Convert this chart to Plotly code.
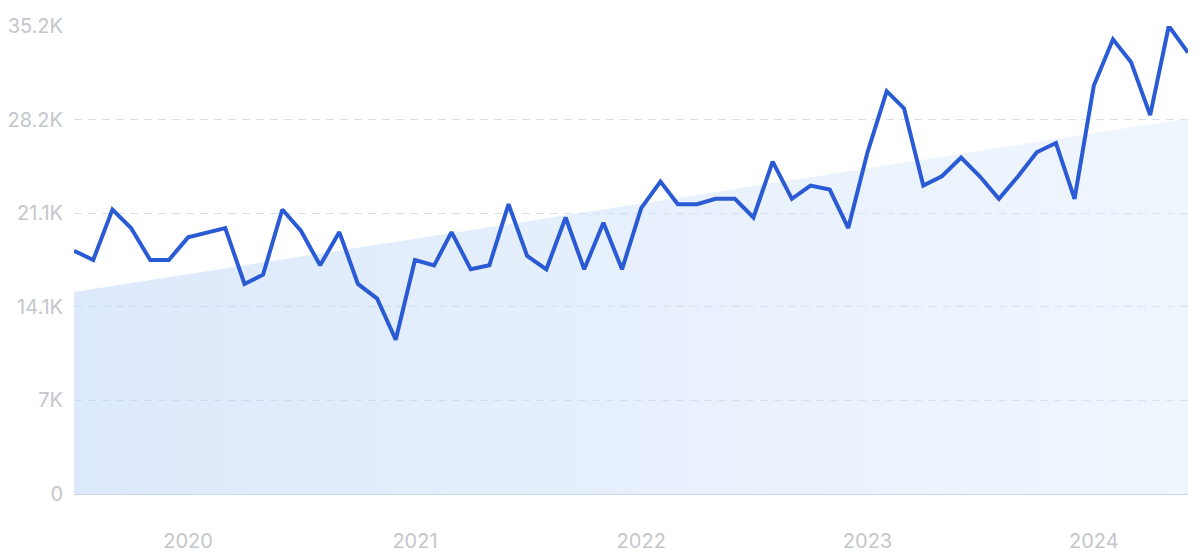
import plotly.graph_objects as go
import pandas as pd

# Monthly values, Jul 2019 .. Jun 2024
dates = pd.date_range("2019-07-01", periods=60, freq="MS").strftime("%Y-%m-%d").tolist()
values = [
    18300, 17600, 21400, 20000, 17600, 17600, 19300, 19700, 20000, 15800,
    16500, 21400, 19800, 17200, 19700, 15800, 14700, 11600, 17600, 17200,
    19700, 16900, 17200, 21800, 17900, 16900, 20800, 16900, 20400, 16900,
    21500, 23500, 21800, 21800, 22200, 22200, 20800, 25000, 22200, 23200,
    22900, 20000, 25700, 30300, 29000, 23200, 23900, 25300, 23900, 22200,
    23900, 25700, 26400, 22200, 30700, 34200, 32500, 28500, 35200, 33200,
]

# Linear trend (start, end)
trend_dates = [dates[0], dates[-1]]
trend_values = [15200, 28250]

# Y ticks
y_tickvals = [0, 7040, 14080, 21120, 28160, 35200]
y_ticktext = ["0", "7K", "14.1K", "21.1K", "28.2K", "35.2K"]
x_tickvals = ["2020-01-01", "2021-01-01", "2022-01-01", "2023-01-01", "2024-01-01"]
x_ticktext = ["2020", "2021", "2022", "2023", "2024"]

fig = go.Figure()
fig.add_trace(go.Scatter(
    x=trend_dates, y=trend_values, mode="lines",
    line=dict(width=0, color="rgba(0,0,0,0)"),
    fill="tozeroy",
    fillgradient=dict(type="horizontal",
                      colorscale=[[0, "rgba(186,212,246,0.5)"], [1, "rgba(218,233,252,0.42)"]]),
    hoverinfo="skip", showlegend=False,
))
fig.add_trace(go.Scatter(
    x=dates, y=values, mode="lines",
    line=dict(color="#2b5bd4", width=4),
    showlegend=False,
))

font_family = "Inter, Roboto, sans-serif"
# page body has an 8px margin, so the figure is shifted by 8px
fig.update_layout(
    width=1192, height=550,
    margin=dict(l=66, r=12, t=18, b=64, autoexpand=False),
    paper_bgcolor="white", plot_bgcolor="white",
    font=dict(family=font_family, size=20, color="#c3c6cc"),
)
fig.update_xaxes(
    range=[dates[0], dates[-1]],
    tickvals=x_tickvals, ticktext=x_ticktext,
    showgrid=False, zeroline=False, automargin=False,
    showline=True, linecolor="#cad8ef", linewidth=1,
    ticks="", ticklabelstandoff=29,
    tickfont=dict(size=20, color="#c3c6cc"),
)
fig.update_yaxes(
    range=[0, 35200],
    tickvals=y_tickvals, ticktext=y_ticktext,
    showgrid=True, gridcolor="#d6e0ec", griddash="8px,6px", gridwidth=1,
    zeroline=False, showline=False, automargin=False,
    ticks="", ticklabelstandoff=10,
    tickfont=dict(size=20, color="#c3c6cc"),
)
fig.write_html("out.html")
